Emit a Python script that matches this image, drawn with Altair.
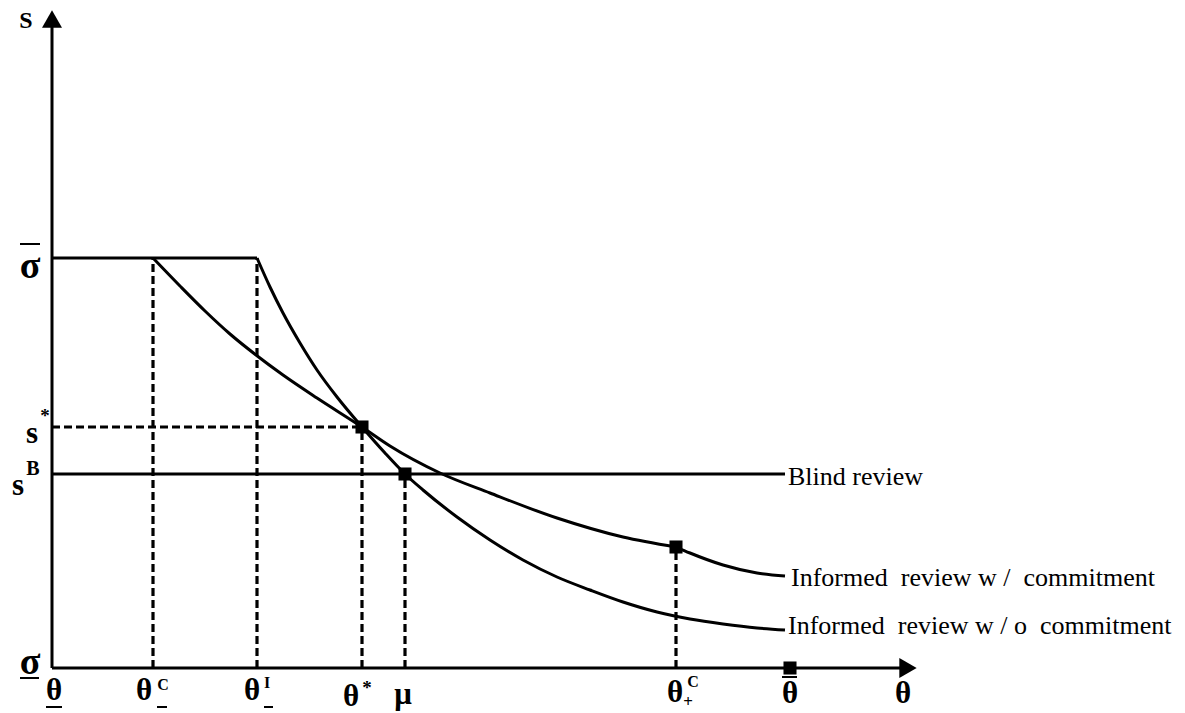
import altair as alt
import pandas as pd

# ---- key values (theta units on x, s units on y) ----
theta_low, theta_mC, theta_mI, theta_star, mu, theta_pC, theta_bar = 0.0, 1.01, 2.05, 3.10, 3.53, 6.24, 7.38
sigma_bar, s_star, s_B, sigma_low = 4.10, 2.41, 1.94, 0.0
theta_end = 7.33

# Informed review w/o commitment (after the flat cap)
wo_theta = [2.05, 2.18, 2.31, 2.48, 2.65, 2.85, 3.10, 3.33, 3.53, 3.71, 4.05, 4.38, 4.71,
            5.05, 5.38, 5.71, 6.05, 6.38, 6.71, 7.05, 7.33]
wo_s = [4.10, 3.81, 3.55, 3.25, 2.98, 2.71, 2.41, 2.15, 1.94, 1.78, 1.51, 1.28, 1.08,
        0.91, 0.78, 0.66, 0.56, 0.49, 0.44, 0.40, 0.38]
# Informed review w/ commitment: segment A (up to theta_+^C) and segment B (after)
wA_theta = [1.01, 1.28, 1.53, 1.78, 2.04, 2.31, 2.65, 3.10, 3.38, 3.88, 4.38, 5.05, 5.71, 6.24]
wA_s = [4.10, 3.82, 3.57, 3.34, 3.13, 2.93, 2.70, 2.41, 2.22, 1.95, 1.75, 1.50, 1.31, 1.21]
wB_theta = [6.24, 6.38, 6.71, 7.05, 7.33]
wB_s = [1.21, 1.15, 1.03, 0.95, 0.92]

FONT = "Liberation Serif"
xs = alt.Scale(domain=[0, 11.0], nice=False, zero=False)
ys = alt.Scale(domain=[0, 6.50], nice=False, zero=False)


def X(f):
    return alt.X(f, type="quantitative", scale=xs, axis=None)


def Y(f):
    return alt.Y(f, type="quantitative", scale=ys, axis=None)


# ---- curves ----
rows = []
for t, s in zip(wo_theta, wo_s):
    rows.append({"t": t, "s": s, "seg": "wo"})
for t, s in zip(wA_theta, wA_s):
    rows.append({"t": t, "s": s, "seg": "wA"})
for t, s in zip(wB_theta, wB_s):
    rows.append({"t": t, "s": s, "seg": "wB"})
rows += [{"t": theta_low, "s": sigma_bar, "seg": "cap"}, {"t": theta_mI, "s": sigma_bar, "seg": "cap"}]
rows += [{"t": theta_low, "s": s_B, "seg": "blind"}, {"t": theta_end, "s": s_B, "seg": "blind"}]
curves = pd.DataFrame(rows)

curve_layer = alt.Chart(curves).mark_line(
    color="black", strokeWidth=3, interpolate="monotone", clip=False
).encode(x=X("t"), y=Y("s"), detail="seg:N", order="t:Q")

# ---- dashed guides ----
vdash = pd.DataFrame({
    "t": [theta_mC, theta_mI, theta_star, mu, theta_pC],
    "y1": [0, 0, 0, 0, 0],
    "y2": [sigma_bar, sigma_bar, s_star, s_B, wA_s[-1]],
})
vdash_layer = alt.Chart(vdash).mark_rule(color="black", strokeWidth=3.2, strokeDash=[8, 4]).encode(
    x=X("t"), y=Y("y1"), y2="y2:Q")
hdash = pd.DataFrame({"t1": [theta_low], "t2": [theta_star], "s": [s_star]})
hdash_layer = alt.Chart(hdash).mark_rule(color="black", strokeWidth=3.2, strokeDash=[8, 4]).encode(
    x=X("t1"), x2="t2:Q", y=Y("s"))

# ---- square markers ----
pts = pd.DataFrame({"t": [theta_star, mu, theta_pC, theta_bar], "s": [s_star, s_B, wA_s[-1], sigma_low]})
pt_layer = alt.Chart(pts).mark_point(shape="square", filled=True, color="black", size=170, opacity=1).encode(
    x=X("t"), y=Y("s"))

# ---- axes with arrows ----
axes = pd.DataFrame({"x1": [0.0, 0.0], "x2": [0.0, 8.50], "y1": [0.0, 0.0], "y2": [6.45, 0.0]})
axis_layer = alt.Chart(axes).mark_rule(color="black", strokeWidth=3).encode(
    x=X("x1"), x2="x2:Q", y=Y("y1"), y2="y2:Q")
arr_up = alt.Chart(pd.DataFrame({"x": [0.0], "y": [6.49]})).mark_point(
    shape="triangle-up", filled=True, color="black", size=400, opacity=1).encode(x=X("x"), y=Y("y"))
arr_right = alt.Chart(pd.DataFrame({"x": [8.56], "y": [0.0]})).mark_point(
    shape="triangle-right", filled=True, color="black", size=400, opacity=1).encode(x=X("x"), y=Y("y"))

# ---- bars (over/underlines, subscript minus) ----
bars = pd.DataFrame({
    "x1": [-0.32, -0.32, -0.06, 7.30, 1.05, 2.12],
    "x2": [-0.12, -0.13, 0.10, 7.45, 1.15, 2.21],
    "y": [4.24, -0.10, -0.39, -0.09, -0.39, -0.39],
})
bar_layer = alt.Chart(bars).mark_rule(color="black", strokeWidth=2).encode(
    x=X("x1"), x2="x2:Q", y=Y("y"))

# ---- math labels ----
labels = pd.DataFrame([
    {"x": -0.26, "y": 6.47, "txt": "S", "sz": 24},
    {"x": -0.22, "y": 4.01, "txt": "σ", "sz": 38},
    {"x": -0.20, "y": 2.34, "txt": "s", "sz": 31},
    {"x": -0.07, "y": 2.52, "txt": "*", "sz": 19},
    {"x": -0.34, "y": 1.82, "txt": "s", "sz": 31},
    {"x": -0.19, "y": 1.99, "txt": "B", "sz": 20},
    {"x": -0.22, "y": 0.05, "txt": "σ", "sz": 38},
    {"x": 0.02, "y": -0.23, "txt": "θ", "sz": 31},
    {"x": 0.92, "y": -0.23, "txt": "θ", "sz": 31},
    {"x": 1.11, "y": -0.17, "txt": "C", "sz": 16},
    {"x": 2.00, "y": -0.23, "txt": "θ", "sz": 31},
    {"x": 2.15, "y": -0.15, "txt": "I", "sz": 16},
    {"x": 2.99, "y": -0.29, "txt": "θ", "sz": 31},
    {"x": 3.15, "y": -0.20, "txt": "*", "sz": 19},
    {"x": 3.51, "y": -0.27, "txt": "μ", "sz": 31},
    {"x": 6.23, "y": -0.25, "txt": "θ", "sz": 31},
    {"x": 6.41, "y": -0.14, "txt": "C", "sz": 16},
    {"x": 6.36, "y": -0.34, "txt": "+", "sz": 17},
    {"x": 7.38, "y": -0.26, "txt": "θ", "sz": 31},
    {"x": 8.51, "y": -0.26, "txt": "θ", "sz": 31},
])
label_layer = alt.Chart(labels).mark_text(
    font=FONT, fontWeight="bold", color="black", align="center", baseline="middle"
).encode(x=X("x"), y=Y("y"), text="txt:N", size=alt.Size("sz:Q", scale=None))

# ---- series labels ----
names = pd.DataFrame([
    {"x": 7.36, "y": s_B - 0.11, "txt": "Blind review"},
    {"x": 7.39, "y": 0.82, "txt": "Informed\u00a0 review w /\u00a0 commitment"},
    {"x": 7.36, "y": 0.34, "txt": "Informed\u00a0 review w / o\u00a0 commitment"},
])
name_layer = alt.Chart(names).mark_text(
    font=FONT, fontSize=26, color="black", align="left", baseline="alphabetic"
).encode(x=X("x"), y=Y("y"), text="txt:N")

chart = alt.layer(
    vdash_layer, hdash_layer, axis_layer, arr_up, arr_right, curve_layer, pt_layer,
    bar_layer, label_layer, name_layer
).properties(
    width=1100, height=650,
    autosize=alt.AutoSizeParams(type="none"),
    padding={"left": 44, "top": 10, "right": 20, "bottom": 45},
    background="white",
).configure_view(stroke=None)

chart.save("out.html", embed_options={"renderer": "svg", "actions": False})
